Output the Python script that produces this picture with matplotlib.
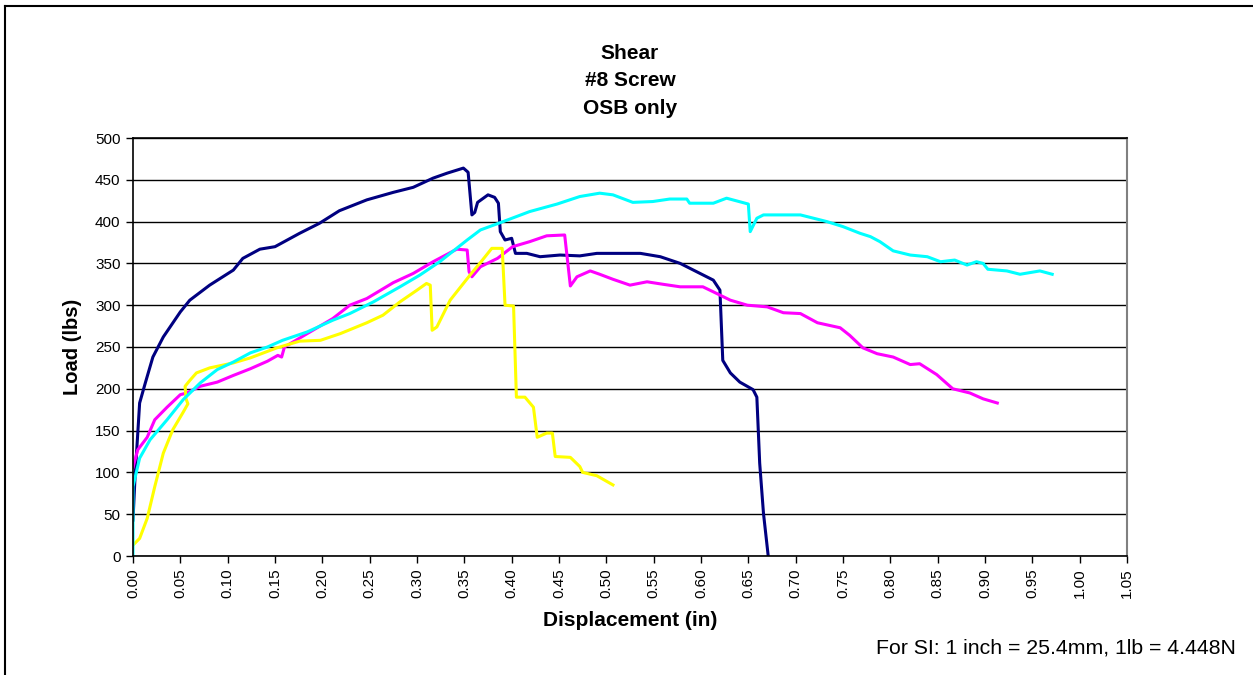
import numpy as np
import matplotlib.pyplot as plt
from matplotlib.lines import Line2D

plt.rcParams['font.family'] = ['Liberation Sans', 'DejaVu Sans']

# Test 1 - navy
disp_1 = [0.000, 0.002, 0.007, 0.013, 0.021, 0.032, 0.050, 0.060, 0.081, 0.106, 0.116,
          0.134, 0.150, 0.176, 0.197, 0.218, 0.247, 0.275, 0.296, 0.317, 0.332, 0.349,
          0.354, 0.358, 0.361, 0.364, 0.375, 0.382, 0.386, 0.388, 0.393, 0.400, 0.404,
          0.416, 0.430, 0.451, 0.472, 0.490, 0.536, 0.557, 0.578, 0.599, 0.613, 0.620,
          0.623, 0.631, 0.641, 0.655, 0.659, 0.662, 0.666, 0.671]
load_1 = [43, 91, 183, 207, 238, 262, 292, 306, 324, 342, 356,
          367, 370, 386, 398, 413, 426, 435, 441, 452, 458, 464,
          459, 408, 411, 423, 432, 429, 422, 388, 378, 380, 362,
          362, 358, 360, 359, 362, 362, 358, 350, 338, 330, 318,
          234, 219, 208, 199, 190, 111, 51, 0]

# Test 2 - magenta
disp_2 = [0.000, 0.005, 0.015, 0.023, 0.036, 0.050, 0.057, 0.071, 0.089, 0.106, 0.124,
          0.142, 0.153, 0.157, 0.160, 0.184, 0.211, 0.229, 0.247, 0.275, 0.296, 0.317,
          0.342, 0.353, 0.355, 0.358, 0.367, 0.385, 0.401, 0.419, 0.437, 0.456, 0.462,
          0.469, 0.483, 0.493, 0.507, 0.525, 0.543, 0.560, 0.578, 0.602, 0.613, 0.631,
          0.649, 0.670, 0.687, 0.705, 0.723, 0.747, 0.757, 0.771, 0.786, 0.803, 0.821,
          0.831, 0.849, 0.866, 0.884, 0.898, 0.913]
load_2 = [106, 127, 142, 163, 178, 193, 195, 203, 208, 216, 224,
          233, 240, 238, 250, 266, 284, 300, 308, 327, 338, 352,
          367, 366, 340, 334, 346, 356, 370, 376, 383, 384, 323,
          334, 341, 337, 331, 324, 328, 325, 322, 322, 316, 306,
          300, 298, 291, 290, 279, 273, 264, 249, 242, 238, 229,
          230, 217, 200, 195, 188, 183]

# Test 3 - yellow
disp_3 = [0.000, 0.007, 0.015, 0.023, 0.032, 0.042, 0.053, 0.058, 0.056, 0.055, 0.060,
          0.067, 0.081, 0.106, 0.124, 0.152, 0.176, 0.198, 0.219, 0.247, 0.264, 0.282,
          0.300, 0.310, 0.314, 0.316, 0.321, 0.335, 0.356, 0.367, 0.379, 0.390, 0.393,
          0.402, 0.405, 0.414, 0.423, 0.427, 0.437, 0.443, 0.446, 0.462, 0.472, 0.475,
          0.490, 0.507]
load_3 = [13, 21, 45, 83, 123, 151, 172, 182, 188, 203, 210,
          219, 225, 231, 237, 249, 257, 258, 266, 279, 288, 304,
          318, 326, 324, 270, 274, 306, 336, 351, 368, 368, 300,
          299, 190, 190, 178, 142, 147, 147, 119, 118, 107, 100,
          96, 85]

# Test 4 - cyan
disp_4 = [0.000, 0.000, 0.007, 0.018, 0.036, 0.053, 0.071, 0.089, 0.106, 0.124, 0.142,
          0.158, 0.184, 0.211, 0.229, 0.254, 0.282, 0.303, 0.324, 0.353, 0.367, 0.391,
          0.419, 0.448, 0.472, 0.493, 0.507, 0.528, 0.549, 0.567, 0.585, 0.588, 0.613,
          0.627, 0.650, 0.652, 0.659, 0.666, 0.705, 0.733, 0.750, 0.768, 0.779, 0.789,
          0.803, 0.821, 0.839, 0.853, 0.868, 0.881, 0.891, 0.898, 0.903, 0.923, 0.937,
          0.958, 0.971]
load_4 = [0, 83, 117, 139, 163, 187, 207, 223, 232, 243, 250,
          258, 268, 282, 290, 304, 322, 336, 352, 378, 390, 400,
          412, 421, 430, 434, 432, 423, 424, 427, 427, 422, 422,
          428, 421, 388, 404, 408, 408, 400, 394, 386, 382, 376,
          365, 360, 358, 352, 354, 348, 352, 350, 343, 341, 337,
          341, 337]

x_ticks = np.arange(0, 1.051, 0.05)
y_ticks = np.arange(0, 501, 50)

fig = plt.figure(figsize=(12.53, 6.75), dpi=100)
ax = fig.add_axes([133 / 1253, 1 - 556 / 675, (1127 - 133) / 1253, (556 - 138) / 675])

ax.plot(disp_1, load_1, color='#000080', lw=2.2)
ax.plot(disp_2, load_2, color='#FF00FF', lw=2.2)
ax.plot(disp_3, load_3, color='#FFFF00', lw=2.2)
ax.plot(disp_4, load_4, color='#00FFFF', lw=2.2)

ax.set_xlim(0, 1.05)
ax.set_ylim(0, 500)
ax.set_xticks(x_ticks)
ax.set_xticklabels([f'{v:.2f}' for v in x_ticks], rotation=90, fontsize=11)
ax.set_yticks(y_ticks)
ax.set_yticklabels([str(v) for v in y_ticks], fontsize=11)
ax.tick_params(direction='out', length=5, width=1, color='black', pad=4)
ax.grid(axis='y', color='black', lw=1)
ax.set_axisbelow(True)

for side in ['left', 'bottom', 'top']:
    ax.spines[side].set_color('black')
    ax.spines[side].set_linewidth(1.2)
ax.spines['right'].set_color('#808080')
ax.spines['right'].set_linewidth(1.5)

ax.set_xlabel('Displacement (in)', fontsize=15, fontweight='bold', va='center')
ax.xaxis.set_label_coords(0.5, (556 - 620) / 418)
ax.set_ylabel('Load (lbs)', fontsize=14.5, fontweight='bold', va='center')
ax.yaxis.set_label_coords((72 - 133) / 994, 0.5)

fig.text(630 / 1253, 1 - 81 / 675, 'Shear\n#8 Screw\nOSB only', ha='center', va='center',
         fontsize=15, fontweight='bold', linespacing=1.55)
fig.text(1236 / 1253, 1 - 648 / 675, 'For SI: 1 inch = 25.4mm, 1lb = 4.448N',
         ha='right', va='center', fontsize=15.3)

# chart frame (left and top edges visible)
fig.add_artist(Line2D([5 / 1253, 5 / 1253], [0, 1 - 6 / 675], color='black', lw=1.5))
fig.add_artist(Line2D([5 / 1253, 1], [1 - 6 / 675, 1 - 6 / 675], color='black', lw=1.5))

fig.savefig('out.png', dpi=100)
